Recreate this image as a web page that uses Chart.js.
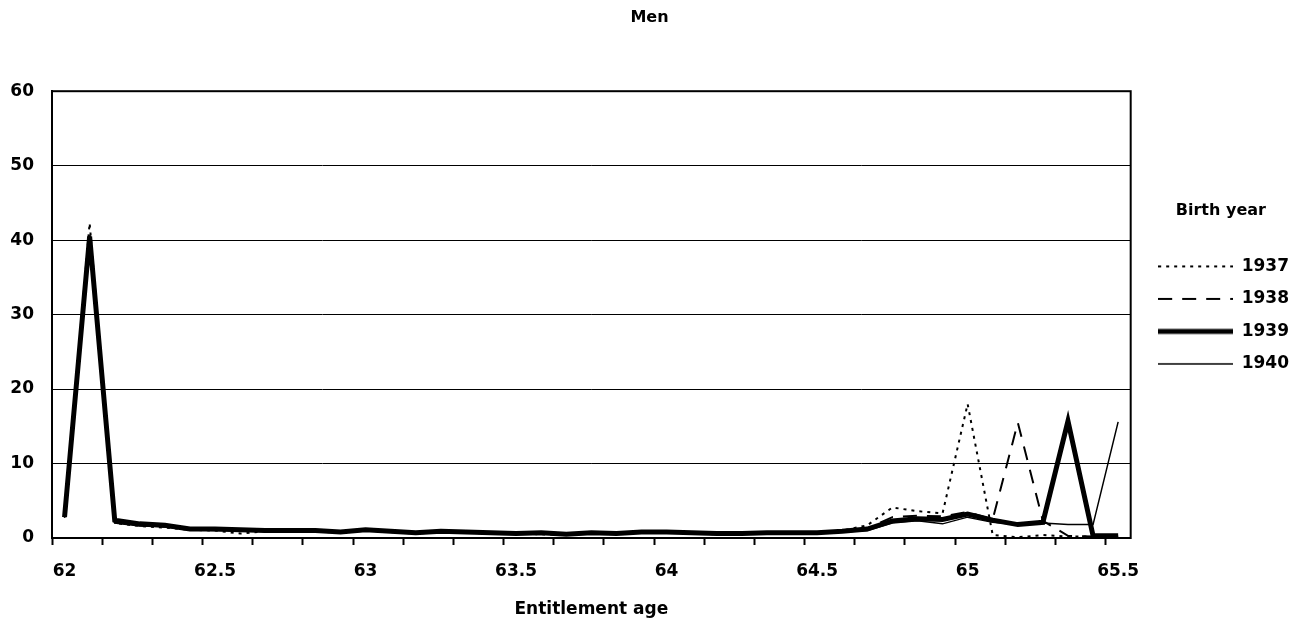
<!DOCTYPE html>
<html>
<head>
<meta charset="utf-8">
<script src="https://cdn.jsdelivr.net/npm/chart.js@4.4.1/dist/chart.umd.min.js"></script>
<style>
  html, body { margin: 0; padding: 0; background: #fff; }
  #wrap { width: 1299px; height: 625px; }
</style>
</head>
<body>
<div id="wrap"><canvas id="menChart" width="1299" height="625"></canvas></div>
<script>
// Entitlement age, one category per month
const ages = ['62', '62.08', '62.17', '62.25', '62.33', '62.42', '62.5', '62.58', '62.67', '62.75', '62.83', '62.92',
    '63', '63.08', '63.17', '63.25', '63.33', '63.42', '63.5', '63.58', '63.67', '63.75', '63.83', '63.92',
    '64', '64.08', '64.17', '64.25', '64.33', '64.42', '64.5', '64.58', '64.67', '64.75', '64.83', '64.92',
    '65', '65.08', '65.17', '65.25', '65.33', '65.42', '65.5'];
const tickLabels = ['62', '62.5', '63', '63.5', '64', '64.5', '65', '65.5'];
const yTicks = [0, 10, 20, 30, 40, 50, 60];

const birthYears = ['1937', '1938', '1939', '1940'];
const men1937 = [2.9, 42.3, 2.0, 1.6, 1.4, 1.1, 1.0, 0.6, 0.9, 0.8, 0.9, 0.7, 1.0, 0.8, 0.6, 0.8, 0.7, 0.6, 0.6, 0.5, 0.4,
    0.6, 0.6, 0.7, 0.8, 0.6, 0.5, 0.5, 0.8, 0.7, 0.8, 1.0, 1.7, 4.1, 3.6, 3.3, 18.0, 0.4, 0.1, 0.4, 0.2, 0.2, 0.2];
const men1938 = [2.8, 41.0, 2.1, 1.7, 1.5, 1.2, 1.1, 1.0, 0.9, 1.0, 1.0, 0.8, 1.1, 0.9, 0.7, 0.9, 0.8, 0.7, 0.7, 0.6, 0.5,
    0.7, 0.6, 0.8, 0.8, 0.8, 0.6, 0.6, 0.7, 0.7, 0.7, 0.9, 1.3, 2.8, 3.0, 2.9, 3.5, 2.5, 15.5, 2.3, 0.3, 0.2, 0.2];
const men1939 = [2.8, 40.5, 2.4, 1.9, 1.7, 1.2, 1.2, 1.1, 1.0, 1.0, 1.0, 0.8, 1.1, 0.9, 0.7, 0.9, 0.8, 0.7, 0.6, 0.7, 0.5,
    0.7, 0.6, 0.8, 0.8, 0.7, 0.6, 0.6, 0.7, 0.7, 0.7, 0.9, 1.2, 2.3, 2.6, 2.5, 3.2, 2.4, 1.8, 2.1, 15.7, 0.3, 0.3];
const men1940 = [2.7, 39.5, 2.0, 1.6, 1.5, 1.1, 1.0, 1.0, 0.9, 0.9, 0.9, 0.7, 1.0, 0.8, 0.6, 0.8, 0.8, 0.6, 0.6, 0.6, 0.4,
    0.6, 0.6, 0.7, 0.7, 0.7, 0.5, 0.5, 0.6, 0.6, 0.6, 0.8, 1.0, 2.0, 2.3, 1.9, 2.8, 2.1, 1.8, 2.0, 1.8, 1.8, 15.6];

Chart.defaults.font.family = '"DejaVu Sans", sans-serif';
Chart.defaults.font.weight = 'bold';
Chart.defaults.color = '#000';

// frame round the plot area
const plotFrame = {
    id: 'plotFrame',
    afterDraw: function (chart) {
        const a = chart.chartArea;
        const ctx = chart.ctx;
        ctx.save();
        ctx.strokeStyle = '#000';
        ctx.lineWidth = 2;
        ctx.strokeRect(a.left, a.top, a.right - a.left, a.bottom - a.top);
        ctx.restore();
    }
};

// legend sample: a short line in the same style as the series
function swatch(width, dash) {
    const c = document.createElement('canvas');
    c.width = 75;
    c.height = 8;
    const g = c.getContext('2d');
    g.strokeStyle = '#000';
    g.lineWidth = width;
    g.setLineDash(dash);
    g.beginPath();
    g.moveTo(0, 4);
    g.lineTo(75, 4);
    g.stroke();
    return c;
}

function lineSet(label, data, width, dash) {
    return {
        label: label,
        data: data,
        borderColor: '#000',
        backgroundColor: '#000',
        borderWidth: width,
        borderDash: dash,
        pointRadius: 0,
        pointHoverRadius: 0,
        pointStyle: swatch(width, dash),
        tension: 0,
        fill: false
    };
}

const ctx = document.getElementById('menChart').getContext('2d');
new Chart(ctx, {
    type: 'line',
    data: {
        labels: ages,
        datasets: [
            lineSet(birthYears[0], men1937, 2, [3, 5]),
            lineSet(birthYears[1], men1938, 2, [14, 10]),
            lineSet(birthYears[2], men1939, 5, []),
            lineSet(birthYears[3], men1940, 1.5, [])
        ]
    },
    plugins: [plotFrame],
    options: {
        responsive: false,
        animation: false,
        layout: { padding: 0 },
        scales: {
            x: {
                offset: true,
                afterFit: function (scale) { scale.height = 87; },
                grid: {
                    offset: true,
                    drawOnChartArea: false,
                    drawTicks: true,
                    tickLength: 7,
                    tickWidth: 2,
                    tickColor: function (c) {
                        return c.index % 2 === 0 ? '#000' : 'rgba(0,0,0,0)';
                    }
                },
                border: { color: '#000', width: 2 },
                ticks: {
                    autoSkip: false,
                    maxRotation: 0,
                    padding: 16,
                    font: { size: 17, weight: 'bold' },
                    callback: function (value) {
                        const l = this.getLabelForValue(value);
                        return tickLabels.includes(l) ? l : '';
                    }
                },
                title: {
                    display: true,
                    text: 'Entitlement age',
                    font: { size: 17, weight: 'bold' },
                    padding: { top: 0, bottom: 5 }
                }
            },
            y: {
                min: yTicks[0],
                max: yTicks[yTicks.length - 1],
                afterFit: function (scale) { scale.width = 52; },
                afterBuildTicks: function (scale) {
                    scale.ticks = yTicks.map(function (v) { return { value: v }; });
                },
                grid: { color: '#000', lineWidth: 1, drawTicks: false },
                border: { color: '#000', width: 2 },
                ticks: { padding: 18, font: { size: 17, weight: 'bold' } }
            },
            yGap: {
                type: 'linear',
                position: 'right',
                afterFit: function (scale) { scale.width = 12; },
                grid: { display: false },
                border: { display: false },
                ticks: { display: false }
            }
        },
        plugins: {
            title: {
                display: true,
                text: 'Men',
                font: { size: 16, weight: 'bold' },
                padding: { top: 8, bottom: 64 }
            },
            legend: {
                position: 'right',
                align: 'start',
                fullSize: false,
                title: {
                    display: true,
                    text: 'Birth year',
                    font: { size: 16, weight: 'bold' },
                    padding: { top: 112, bottom: 20 }
                },
                labels: {
                    usePointStyle: true,
                    pointStyleWidth: 75,
                    boxWidth: 75,
                    padding: 15.5,
                    color: '#000',
                    font: { size: 17, weight: 'bold' }
                }
            },
            tooltip: { enabled: false }
        }
    }
});
</script>
</body>
</html>
